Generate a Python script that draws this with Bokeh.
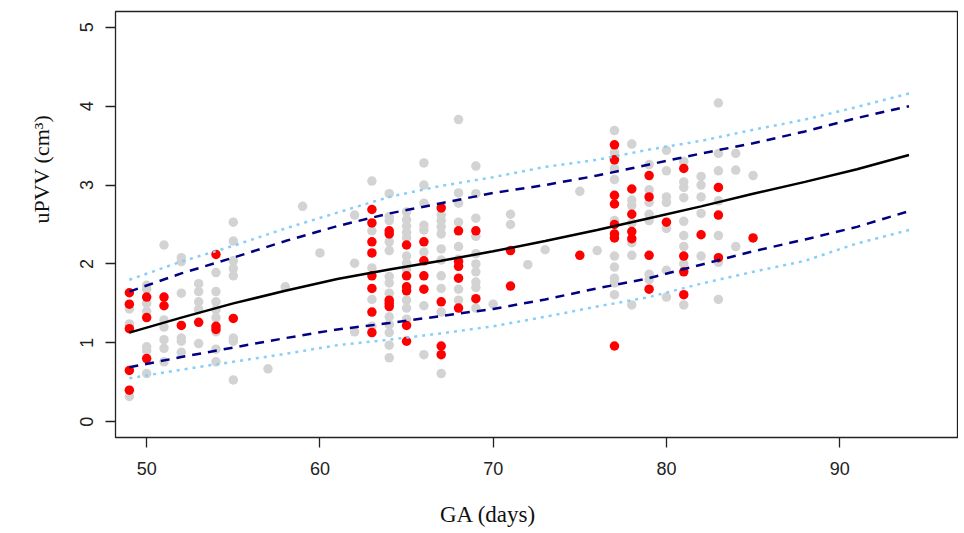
from bokeh.plotting import figure
from bokeh.models import Range1d, FixedTicker, Title
from bokeh.embed import file_html
from bokeh.resources import INLINE

# ---- data ----
gray_ga = ([49]*3 + [50]*7 + [51]*6 + [52]*6 + [53]*5 + [54]*8 + [55]*8 + [57, 58, 59, 60] +
           [62]*3 + [63]*5 + [64]*13 + [65]*11 + [66]*8 + [67]*10 + [68]*8 + [69]*10 +
           [70] + [71]*2 + [72, 73, 75, 76] + [77]*10 + [78]*7 + [79]*7 + [80]*7 + [81]*9 +
           [82]*5 + [83]*7 + [84]*3 + [85])
gray_uvv = [1.43, 1.24, 0.32,
            1.73, 1.68, 1.50, 1.40, 0.95, 0.90, 0.61,
            2.24, 1.29, 1.20, 1.04, 0.93, 0.76,
            2.08, 2.03, 1.63, 1.06, 1.02, 0.88,
            1.75, 1.65, 1.52, 1.42, 0.99,
            1.89, 1.65, 1.52, 1.42, 1.32, 1.14, 0.92, 0.76,
            2.53, 2.29, 2.04, 1.94, 1.85, 1.06, 1.02, 0.53,
            0.67, 1.71, 2.73, 2.14,
            2.62, 2.01, 1.14,
            3.05, 2.42, 1.95, 1.55, 1.21,
            2.89, 2.60, 2.55, 2.28, 2.17, 1.84, 1.76, 1.63, 1.33, 1.23, 1.13, 0.97, 0.81,
            2.66, 2.56, 2.48, 2.40, 2.33, 2.10, 2.01, 1.93, 1.54, 1.44, 1.30,
            3.28, 3.00, 2.77, 2.49, 2.43, 2.15, 1.47, 0.85,
            2.62, 2.55, 2.47, 2.38, 2.19, 2.05, 1.85, 1.69, 1.39, 0.61,
            3.83, 2.90, 2.77, 2.53, 2.22, 2.06, 1.68, 1.54,
            3.24, 2.89, 2.58, 2.35, 2.13, 2.00, 1.90, 1.77, 1.70, 1.44,
            1.49,
            2.63, 2.50,
            1.99, 2.18, 2.92, 2.17,
            3.69, 3.41, 3.21, 3.07, 2.55, 2.10, 1.96, 1.82, 1.76, 1.61,
            3.52, 2.81, 2.74, 2.52, 2.27, 2.11, 1.48,
            3.26, 2.94, 2.78, 2.63, 2.55, 1.87, 1.80,
            3.44, 3.18, 2.85, 2.78, 2.45, 1.92, 1.58,
            3.30, 3.04, 2.97, 2.84, 2.54, 2.36, 2.22, 2.00, 1.48,
            3.11, 3.00, 2.85, 2.64, 2.10,
            4.04, 3.40, 3.18, 2.80, 2.36, 2.02, 1.55,
            3.40, 3.19, 2.22,
            3.12]

red_ga = ([49]*5 + [50]*3 + [51]*2 + [52, 53] + [54]*3 + [55] +
          [63]*8 + [64]*5 + [65]*6 + [66]*4 + [67]*4 + [68]*5 + [69]*2 + [71]*2 + [75] +
          [77]*8 + [78]*4 + [79]*4 + [80] + [81]*4 + [82] + [83]*3 + [85])
red_uvv = [1.635, 1.49, 1.18, 0.65, 0.40,
           1.58, 1.32, 0.80,
           1.58, 1.47,
           1.22, 1.26,
           2.12, 1.21, 1.17,
           1.31,
           2.69, 2.52, 2.28, 2.14, 1.85, 1.69, 1.39, 1.13,
           2.42, 2.38, 1.54, 1.50, 1.46,
           2.24, 1.85, 1.71, 1.66, 1.22, 1.02,
           2.28, 2.04, 1.85, 1.68,
           2.71, 1.52, 0.96, 0.85,
           2.42, 2.03, 1.97, 1.82, 1.44,
           2.42, 1.56,
           2.17, 1.72,
           2.11,
           3.51, 3.32, 2.87, 2.76, 2.50, 2.38, 2.33, 0.96,
           2.95, 2.63, 2.41, 2.32,
           3.12, 2.85, 2.11, 1.68,
           2.53,
           3.21, 2.10, 1.90, 1.61,
           2.37,
           2.97, 2.62, 2.08,
           2.33]

curve_ga = [49, 52, 55, 58, 61, 64, 67, 70, 73, 76, 79, 82, 85, 88, 91, 94]
median_uvv = [1.13, 1.32, 1.50, 1.66, 1.81, 1.93, 2.04, 2.16, 2.29, 2.43, 2.58, 2.73, 2.89, 3.04, 3.20, 3.38]
upper_dark = [1.65, 1.88, 2.08, 2.29, 2.48, 2.64, 2.77, 2.90, 3.00, 3.12, 3.26, 3.40, 3.53, 3.68, 3.85, 4.00]
upper_light = [1.80, 2.03, 2.23, 2.45, 2.65, 2.85, 2.99, 3.10, 3.23, 3.32, 3.45, 3.56, 3.70, 3.83, 3.99, 4.16]
lower_dark = [0.69, 0.82, 0.94, 1.06, 1.17, 1.25, 1.34, 1.43, 1.55, 1.69, 1.82, 1.99, 2.16, 2.31, 2.47, 2.67]
lower_light = [0.55, 0.66, 0.76, 0.86, 0.97, 1.04, 1.12, 1.21, 1.33, 1.46, 1.58, 1.75, 1.90, 2.04, 2.26, 2.43]

x_ticks = [50, 60, 70, 80, 90]
y_ticks = [0, 1, 2, 3, 4, 5]
x_title = "GA (days)"
y_title = "uPVV (cm³)"

# ---- figure ----
p = figure(width=958, height=530, output_backend="svg", toolbar_location=None,
           x_range=Range1d(48.2, 96.8), y_range=Range1d(-0.2, 5.2),
           min_border_left=115, min_border_right=1, min_border_top=11, min_border_bottom=93)
p.background_fill_color = "white"
p.border_fill_color = "white"
p.outline_line_color = "#222222"
p.outline_line_width = 1.3
p.xgrid.visible = False
p.ygrid.visible = False

for ax in (p.xaxis, p.yaxis):
    ax.axis_line_color = None
    ax.major_tick_line_color = "#222222"
    ax.major_tick_line_width = 1.3
    ax.major_tick_in = 0
    ax.major_tick_out = 10
    ax.minor_tick_line_color = None
    ax.major_label_text_font = "Liberation Sans"
    ax.major_label_text_font_size = "18px"
    ax.major_label_text_color = "#222222"
p.xaxis.ticker = FixedTicker(ticks=x_ticks)
p.yaxis.ticker = FixedTicker(ticks=y_ticks)
p.xaxis.major_label_standoff = 14
p.yaxis.major_label_standoff = 12
p.yaxis.major_label_orientation = "vertical"

# x title: trailing em spaces shift the visible text left of the frame centre, as in the reference
p.xaxis.axis_label = x_title + "\u2003\u2003\u2003\u2003\u2009"
p.xaxis.axis_label_text_font = "Liberation Serif"
p.xaxis.axis_label_text_font_style = "normal"
p.xaxis.axis_label_text_font_size = "23px"
p.xaxis.axis_label_text_color = "#111111"
p.xaxis.axis_label_standoff = 24

p.add_layout(Title(text=y_title, align="left", offset=214, standoff=48,
                   text_font="Liberation Serif", text_font_size="22px",
                   text_font_style="normal", text_color="#111111"), "left")

p.scatter(gray_ga, gray_uvv, size=9.5, color="#D3D3D3", line_color=None)
p.scatter(red_ga, red_uvv, size=9.5, color="#FF0000", line_color=None)

p.line(curve_ga, upper_light, line_color="#87CEFA", line_width=2.5, line_dash="3 5")
p.line(curve_ga, lower_light, line_color="#87CEFA", line_width=2.5, line_dash="3 5")
p.line(curve_ga, upper_dark, line_color="#000080", line_width=2.5, line_dash="9 7")
p.line(curve_ga, lower_dark, line_color="#000080", line_width=2.5, line_dash="9 7")
p.line(curve_ga, median_uvv, line_color="black", line_width=2.5)

open("out.html", "w").write(file_html(p, INLINE))
